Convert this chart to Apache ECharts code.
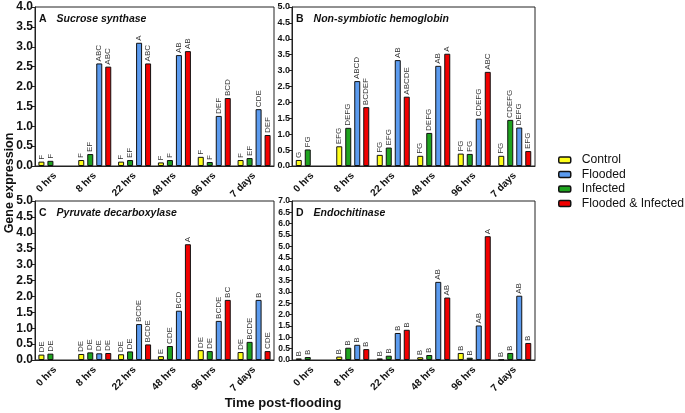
<!DOCTYPE html>
<html><head><meta charset="utf-8">
<script src="https://cdn.jsdelivr.net/npm/echarts@6/dist/echarts.min.js"></script>
<style>html,body{margin:0;padding:0;background:#fff}#c{width:685px;height:413px}</style>
</head><body><div id="c"></div>
<script>
const categories = ['0 hrs','8 hrs','22 hrs','48 hrs','96 hrs','7 days'];
const treatments = ['Control','Infected','Flooded','Flooded & Infected'];
const legendOrder = ['Control','Flooded','Infected','Flooded & Infected'];

// A Sucrose synthase
const sucControl  = [0.11, 0.15, 0.11, 0.09, 0.23, 0.15];
const sucInfected = [0.13, 0.30, 0.15, 0.15, 0.10, 0.20];
const sucFlooded  = [null, 2.58, 3.10, 2.79, 1.26, 1.43];
const sucFI       = [null, 2.50, 2.58, 2.89, 1.71, 0.78];
const sucControlL  = ['F','F','F','F','F','F'];
const sucInfectedL = ['F','EF','EF','F','F','EF'];
const sucFloodedL  = ['','ABC','A','AB','DEF','CDE'];
const sucFIL       = ['','ABC','ABC','AB','BCD','DEF'];

// B Non-symbiotic hemoglobin
const hbControl  = [0.19, 0.62, 0.35, 0.32, 0.39, 0.32];
const hbInfected = [0.52, 1.20, 0.58, 1.04, 0.38, 1.45];
const hbFlooded  = [null, 2.67, 3.33, 3.15, 1.49, 1.21];
const hbFI       = [null, 1.85, 2.18, 3.53, 2.96, 0.47];
const hbControlL  = ['G','EFG','FG','FG','FG','FG'];
const hbInfectedL = ['FG','DEFG','EFG','DEFG','FG','CDEFG'];
const hbFloodedL  = ['','ABCD','AB','AB','CDEFG','DEFG'];
const hbFIL       = ['','BCDEF','ABCDE','A','ABC','EFG'];

// C Pyruvate decarboxylase
const pdcControl  = [0.17, 0.19, 0.18, 0.12, 0.31, 0.25];
const pdcInfected = [0.20, 0.24, 0.27, 0.44, 0.28, 0.57];
const pdcFlooded  = [null, 0.21, 1.13, 1.55, 1.23, 1.89];
const pdcFI       = [null, 0.22, 0.49, 3.64, 1.89, 0.28];
const pdcControlL  = ['DE','DE','DE','E','DE','DE'];
const pdcInfectedL = ['DE','DE','DE','CDE','DE','BCDE'];
const pdcFloodedL  = ['','DE','BCDE','BCD','BCDE','B'];
const pdcFIL       = ['','DE','BCDE','A','BC','CDE'];

// D Endochitinase
const endControl  = [0.07, 0.15, 0.07, 0.12, 0.31, 0.02];
const endInfected = [0.13, 0.54, 0.19, 0.22, 0.10, 0.31];
const endFlooded  = [null, 0.67, 1.19, 3.44, 1.52, 2.83];
const endFI       = [null, 0.48, 1.33, 2.75, 5.45, 0.75];
const endControlL  = ['B','B','B','B','B','B'];
const endInfectedL = ['B','B','B','B','B','B'];
const endFloodedL  = ['','B','B','AB','AB','AB'];
const endFIL       = ['','B','B','AB','A','B'];

const panelLetters = ['A','B','C','D'];
const panelNames = ['Sucrose synthase','Non-symbiotic hemoglobin','Pyruvate decarboxylase','Endochitinase'];
const yMax = [4, 5, 5, 7];
const yStep = 0.5;

const panels = [
  {vals:[sucControl,sucInfected,sucFlooded,sucFI], labs:[sucControlL,sucInfectedL,sucFloodedL,sucFIL]},
  {vals:[hbControl,hbInfected,hbFlooded,hbFI], labs:[hbControlL,hbInfectedL,hbFloodedL,hbFIL]},
  {vals:[pdcControl,pdcInfected,pdcFlooded,pdcFI], labs:[pdcControlL,pdcInfectedL,pdcFloodedL,pdcFIL]},
  {vals:[endControl,endInfected,endFlooded,endFI], labs:[endControlL,endInfectedL,endFloodedL,endFIL]}
];

const colors = {'Control':'#ffff1a','Infected':'#1ea31e','Flooded':'#5b9bef','Flooded & Infected':'#f20000'};
const gridBoxes = [
  {left:35, top:7, width:239, height:159},
  {left:292, top:7, width:243, height:159},
  {left:35, top:201, width:239, height:159},
  {left:292, top:201, width:243, height:159}
];
const yLabelSize = [12, 9, 12, 8.5];
const FONT = 'Liberation Sans, Arial, sans-serif';

const grid = [], xAxis = [], yAxis = [], series = [], title = [];
gridBoxes.forEach((g, i) => {
  grid.push(Object.assign({show:true, borderColor:'#222', borderWidth:1, backgroundColor:'transparent', containLabel:false}, g));
  xAxis.push({type:'category', gridIndex:i, data:categories,
    axisLine:{lineStyle:{color:'#222', width:1}}, axisTick:{show:false},
    axisLabel:{rotate:45, fontFamily:FONT, fontWeight:'bold', fontSize:10, color:'#111', margin:8, interval:0}});
  yAxis.push({type:'value', gridIndex:i, min:0, max:yMax[i], interval:yStep,
    splitLine:{show:false}, axisLine:{show:true, lineStyle:{color:'#222', width:1}},
    axisTick:{show:true, length:3, lineStyle:{color:'#222'}},
    axisLabel:{formatter:v => v.toFixed(1), fontFamily:FONT, fontWeight:'bold', fontSize:yLabelSize[i], color:'#111', margin:2}});
  title.push({text:'{n|' + panelLetters[i] + '}  {t|' + panelNames[i] + '}',
    left:g.left + 4, top:g.top + 3, padding:0,
    textStyle:{rich:{n:{fontFamily:FONT, fontWeight:'bold', fontSize:10.5, color:'#111'},
                     t:{fontFamily:FONT, fontWeight:'bold', fontStyle:'italic', fontSize:10.5, color:'#111'}}}});
  treatments.forEach((name, k) => {
    const labs = panels[i].labs[k];
    series.push({type:'bar', name:name, xAxisIndex:i, yAxisIndex:i,
      data:panels[i].vals[k], barWidth:6, barGap:'50%', barCategoryGap:'20%',
      itemStyle:{color:colors[name], borderColor:'#111', borderWidth:1},
      label:{show:true, position:'top', rotate:90, align:'left', verticalAlign:'middle', distance:2,
        fontFamily:FONT, fontSize:8, color:'#333',
        formatter:p => labs[p.dataIndex] || ''},
      emphasis:{disabled:true}, animation:false});
  });
});

const chart = echarts.init(document.getElementById('c'), null, {renderer:'canvas'});
chart.setOption({
  animation:false,
  title:title,
  grid:grid, xAxis:xAxis, yAxis:yAxis, series:series,
  legend:{data:legendOrder, orient:'vertical', left:558, top:153, padding:0, itemWidth:12, itemHeight:6, itemGap:0.5,
    textStyle:{fontFamily:FONT, fontSize:12.2, lineHeight:14, color:'#111', padding:[0,0,0,6]},
    itemStyle:{borderColor:'#111', borderWidth:1.5}},
  graphic:[
    {type:'text', rotation:Math.PI/2, x:10, y:183,
     style:{text:'Gene expression', fontFamily:FONT, fontWeight:'bold', fontSize:12.5, fill:'#111', textAlign:'center', textVerticalAlign:'middle'}},
    {type:'text', x:283, y:403,
     style:{text:'Time post-flooding', fontFamily:FONT, fontWeight:'bold', fontSize:13, fill:'#111', textAlign:'center', textVerticalAlign:'middle'}}
  ]
});
</script></body></html>
